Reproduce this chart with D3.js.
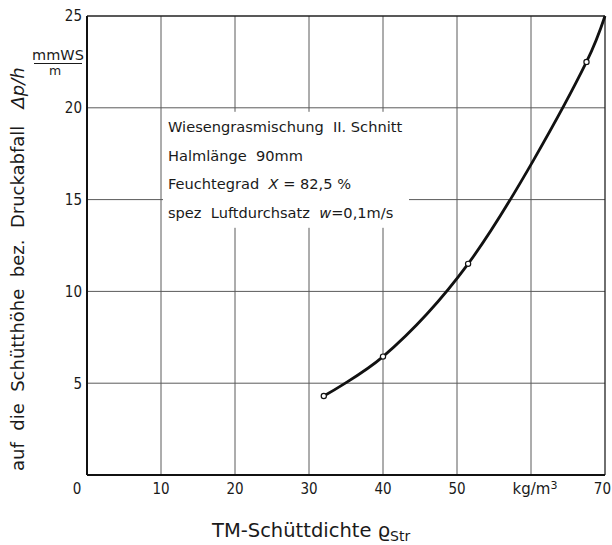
<!DOCTYPE html>
<html>
<head>
<meta charset="utf-8">
<script src="https://cdn.jsdelivr.net/npm/d3@7"></script>
<style>
  html, body { margin: 0; padding: 0; background: #fff; }
  svg text { font-family: "DejaVu Sans", sans-serif; fill: #1a1a1a; }
  svg text.tick { font-family: "DejaVu Sans Condensed", "DejaVu Sans", sans-serif; }
</style>
</head>
<body>
<svg id="chart" width="612" height="545"></svg>
<script>
// Bulk density (kg/m³) and pressure drop per bed height (mmWS/m)
const density = [32, 40, 51.5, 67.5];
const pressureDrop = [4.3, 6.45, 11.5, 22.5];
// fitted curve continues to the upper right corner
const curveDensity = [32, 40, 51.5, 67.5, 70];
const curveDrop = [4.3, 6.45, 11.5, 22.5, 25];

const xTicks = [10, 20, 30, 40, 50];
const xTickLabels = ["10", "20", "30", "40", "50"];
const yTicks = [5, 10, 15, 20, 25];
const yTickLabels = ["5", "10", "15", "20", "25"];
const notes = [
  "Wiesengrasmischung  II. Schnitt",
  "Halmlänge  90mm",
  "Feuchtegrad  |X| = 82,5 %",
  "spez  Luftdurchsatz  |w|=0,1m/s"
];

const svg = d3.select("#chart");
const x = d3.scaleLinear().domain([0, 70]).range([87, 605]);
const y = d3.scaleLinear().domain([0, 25]).range([475, 16]);

// grid
const grid = svg.append("g").attr("stroke", "#5a5a5a").attr("stroke-width", 1);
grid.selectAll("line.v").data([10, 20, 30, 40, 50, 60]).enter().append("line")
  .attr("x1", d => x(d)).attr("x2", d => x(d)).attr("y1", y(0)).attr("y2", y(25));
grid.selectAll("line.h").data([5, 10, 15, 20]).enter().append("line")
  .attr("x1", x(0)).attr("x2", x(70)).attr("y1", d => y(d)).attr("y2", d => y(d));

// frame
svg.append("line").attr("x1", x(0)).attr("x2", x(70)).attr("y1", y(25)).attr("y2", y(25))
  .attr("stroke", "#222").attr("stroke-width", 1.3);
svg.append("line").attr("x1", x(70)).attr("x2", x(70)).attr("y1", y(0)).attr("y2", y(25))
  .attr("stroke", "#222").attr("stroke-width", 1.3);
svg.append("line").attr("x1", x(0)).attr("x2", x(0)).attr("y1", y(0)).attr("y2", y(25))
  .attr("stroke", "#111").attr("stroke-width", 2);
svg.append("line").attr("x1", x(0)).attr("x2", x(70)).attr("y1", y(0)).attr("y2", y(0))
  .attr("stroke", "#111").attr("stroke-width", 2);

// note block with white backing
const nb = svg.append("g");
nb.append("rect").attr("x", x(10) + 2).attr("y", y(20) + 4)
  .attr("width", 246).attr("height", 116).attr("fill", "#fff");
notes.forEach((line, i) => {
  const t = nb.append("text").attr("x", 168).attr("y", 132 + i * 28.5)
    .attr("font-size", 14.6).attr("xml:space", "preserve");
  line.split("|").forEach((part, j) => {
    t.append("tspan").text(part).attr("font-style", j % 2 === 1 ? "italic" : null);
  });
});

// curve and markers
const pts = curveDensity.map((d, i) => [x(d), y(curveDrop[i])]);
svg.append("path").attr("d", d3.line().curve(d3.curveCatmullRom.alpha(0.5))(pts))
  .attr("fill", "none").attr("stroke", "#111").attr("stroke-width", 2.8);
svg.selectAll("circle.m").data(density).enter().append("circle")
  .attr("cx", d => x(d)).attr("cy", (d, i) => y(pressureDrop[i])).attr("r", 2.6)
  .attr("fill", "#fff").attr("stroke", "#111").attr("stroke-width", 1.2);

// tick labels
svg.selectAll("text.yt").data(yTicks).enter().append("text").attr("class", "tick")
  .attr("x", 82).attr("y", d => y(d)).attr("dy", "0.36em").attr("text-anchor", "end")
  .attr("font-size", 15).text((d, i) => yTickLabels[i]);
svg.selectAll("text.xt").data(xTicks).enter().append("text").attr("class", "tick")
  .attr("x", d => x(d)).attr("y", 494).attr("text-anchor", "middle")
  .attr("font-size", 15).text((d, i) => xTickLabels[i]);
svg.append("text").attr("class", "tick").attr("x", 77).attr("y", 494)
  .attr("text-anchor", "middle").attr("font-size", 15).text("0");
svg.append("text").attr("class", "tick").attr("x", 611).attr("y", 494)
  .attr("text-anchor", "end").attr("font-size", 15).text("70");
const unit = svg.append("text").attr("x", 535).attr("y", 494).attr("text-anchor", "middle")
  .attr("font-size", 15).text("kg/m");
unit.append("tspan").attr("dy", -5).attr("font-size", 11).text("3");

// x title
const xt = svg.append("text").attr("x", 212).attr("y", 537).attr("font-size", 19.5)
  .text("TM-Schüttdichte");
xt.append("tspan").attr("dx", 6).attr("font-size", 20).text("ϱ");
xt.append("tspan").attr("dy", 4).attr("font-size", 14).text("Str");

// y title
const yt = svg.append("text").attr("transform", "translate(24,471) rotate(-90)")
  .attr("font-size", 18).attr("xml:space", "preserve")
  .text("auf  die  Schütthöhe  bez.  Druckabfall   ");
yt.append("tspan").attr("font-style", "italic").text("Δp/h");

// unit fraction
svg.append("text").attr("x", 58).attr("y", 60).attr("text-anchor", "middle")
  .attr("font-size", 14.5).text("mmWS");
svg.append("line").attr("x1", 34).attr("x2", 82).attr("y1", 63.5).attr("y2", 63.5)
  .attr("stroke", "#1a1a1a").attr("stroke-width", 1.2);
svg.append("text").attr("x", 55).attr("y", 74.5).attr("text-anchor", "middle")
  .attr("font-size", 12.5).text("m");
</script>
</body>
</html>
